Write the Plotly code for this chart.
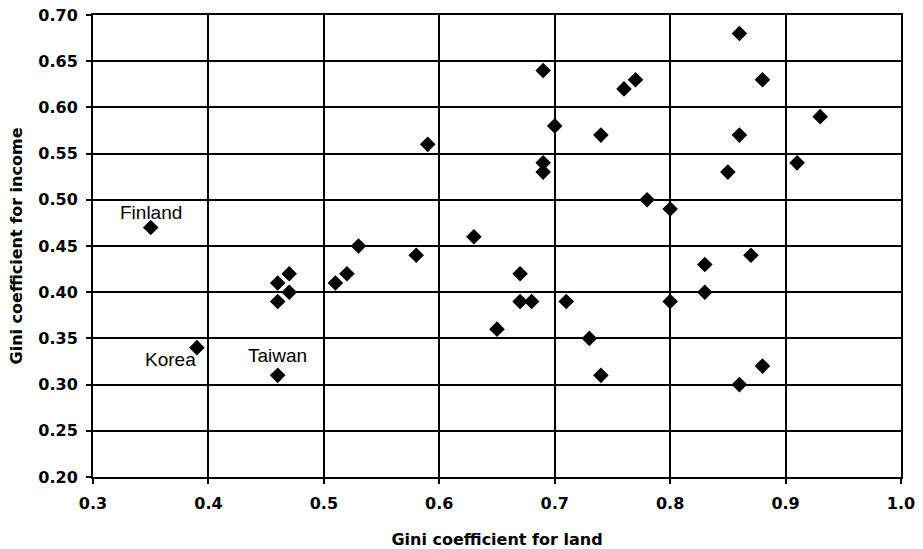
import plotly.graph_objects as go

land = [0.35, 0.39, 0.46, 0.46, 0.46, 0.47, 0.47, 0.51, 0.52, 0.53, 0.58, 0.59,
        0.63, 0.65, 0.67, 0.67, 0.68, 0.69, 0.69, 0.69, 0.70, 0.71, 0.73, 0.74,
        0.74, 0.76, 0.77, 0.78, 0.80, 0.80, 0.83, 0.83, 0.85, 0.86, 0.86, 0.86,
        0.87, 0.88, 0.88, 0.91, 0.93]
income = [0.47, 0.34, 0.31, 0.41, 0.39, 0.42, 0.40, 0.41, 0.42, 0.45, 0.44, 0.56,
          0.46, 0.36, 0.42, 0.39, 0.39, 0.64, 0.54, 0.53, 0.58, 0.39, 0.35, 0.57,
          0.31, 0.62, 0.63, 0.50, 0.49, 0.39, 0.43, 0.40, 0.53, 0.68, 0.57, 0.30,
          0.44, 0.63, 0.32, 0.54, 0.59]

labels = ["Finland", "Korea", "Taiwan"]
label_x = [0.35, 0.39, 0.46]
label_y = [0.47, 0.34, 0.31]

bold_fam = "DejaVu Sans, sans-serif"
lab_fam = "Liberation Sans, Arial, sans-serif"

fig = go.Figure()
fig.add_trace(go.Scatter(
    x=land, y=income, mode="markers",
    marker=dict(symbol="diamond", size=12, color="black"),
    showlegend=False, hoverinfo="x+y"))

lab_font = dict(family=lab_fam, size=19, color="black")
fig.add_annotation(x=label_x[0], y=label_y[0], text=labels[0], showarrow=False,
                   xanchor="center", yanchor="middle", yshift=15, font=lab_font)
fig.add_annotation(x=label_x[1], y=label_y[1], text=labels[1], showarrow=False,
                   xanchor="right", yanchor="middle", xshift=1, yshift=-12, font=lab_font)
fig.add_annotation(x=label_x[2], y=label_y[2], text=labels[2], showarrow=False,
                   xanchor="center", yanchor="middle", yshift=20, font=lab_font)

tick_font = dict(family=bold_fam, size=16, color="black", weight="bold")
title_font = dict(family=bold_fam, size=16, color="black", weight="bold")

fig.update_layout(
    width=923, height=549,
    margin=dict(l=93, r=22, t=15, b=72, autoexpand=False),
    paper_bgcolor="white", plot_bgcolor="white",
    font=dict(family=bold_fam, color="black"),
    xaxis=dict(range=[0.3, 1.0], dtick=0.1, tick0=0.3, tickformat=".1f",
               showgrid=True, gridcolor="black", gridwidth=1.5,
               showline=True, linecolor="black", linewidth=2, mirror=True,
               ticks="outside", ticklen=5, tickcolor="black", tickwidth=1.5,
               ticklabelstandoff=6, automargin=False,
               zeroline=False, tickfont=tick_font,
               title=dict(text="Gini coefficient for land", font=title_font,
                          standoff=22)),
    yaxis=dict(range=[0.2, 0.7], dtick=0.05, tick0=0.2, tickformat=".2f",
               showgrid=True, gridcolor="black", gridwidth=1.5,
               showline=True, linecolor="black", linewidth=2, mirror=True,
               ticks="outside", ticklen=5, tickcolor="black", tickwidth=1.5,
               ticklabelstandoff=5, automargin=False,
               zeroline=False, tickfont=tick_font,
               title=dict(text="Gini coefficient for income", font=title_font,
                          standoff=12)),
)

fig.write_html("out.html")
